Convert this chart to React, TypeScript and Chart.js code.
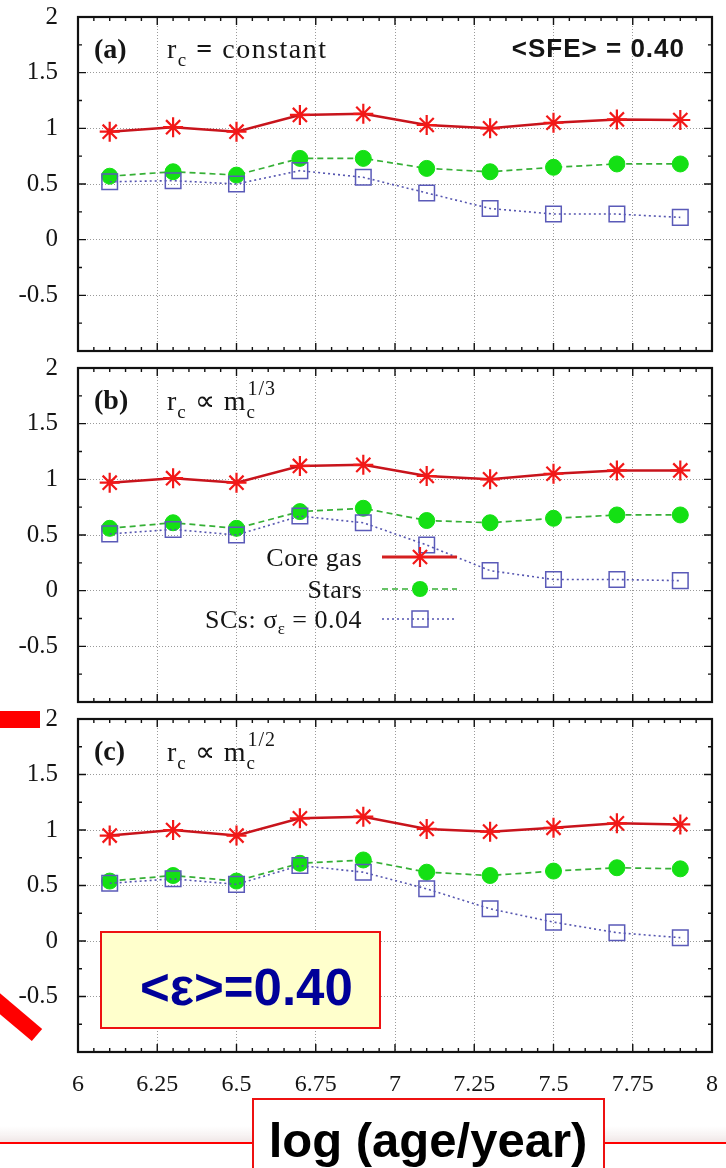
import React, { useEffect, useRef } from 'react';
import { Chart, registerables } from 'chart.js';

Chart.register(...registerables);

// ---------------- data ----------------
const ages = [6.1, 6.3, 6.5, 6.7, 6.9, 7.1, 7.3, 7.5, 7.7, 7.9];

const coreGasA = [0.97, 1.01, 0.97, 1.12, 1.13, 1.03, 1.0, 1.05, 1.08, 1.075];
const starsA = [0.57, 0.61, 0.58, 0.73, 0.73, 0.64, 0.61, 0.65, 0.68, 0.68];
const clustersA = [0.52, 0.53, 0.5, 0.62, 0.56, 0.42, 0.28, 0.23, 0.23, 0.2];

const coreGasB = [0.97, 1.01, 0.97, 1.12, 1.13, 1.03, 1.0, 1.05, 1.08, 1.08];
const starsB = [0.56, 0.61, 0.56, 0.71, 0.74, 0.63, 0.61, 0.65, 0.68, 0.68];
const clustersB = [0.51, 0.55, 0.5, 0.67, 0.61, 0.41, 0.18, 0.1, 0.1, 0.09];

const coreGasC = [0.95, 1.0, 0.95, 1.105, 1.12, 1.01, 0.985, 1.02, 1.06, 1.05];
const starsC = [0.54, 0.59, 0.54, 0.7, 0.73, 0.62, 0.59, 0.63, 0.66, 0.65];
const clustersC = [0.52, 0.56, 0.51, 0.68, 0.62, 0.47, 0.29, 0.17, 0.075, 0.03];

const xTickLabels = ['6', '6.25', '6.5', '6.75', '7', '7.25', '7.5', '7.75', '8'];
const yTickLabels = ['', '-0.5', '0', '0.5', '1', '1.5', '2'];
const seriesNames = ['Core gas', 'Stars', 'SCs'];

// ---------------- styling / layout ----------------
const W = 726;
const H = 1168;
const AREA_LEFT = 78;
const AREA_RIGHT = 712;
const SERIF = "'Liberation Serif', 'Times New Roman', serif";
const SANS = "'Liberation Sans', Arial, sans-serif";

const RED_LINE = '#c8141c';
const RED_PT = '#f21818';
const GREEN_LINE = '#36b036';
const GREEN_PT = '#14e014';
const BLUE_LINE = '#5656b0';
const BLUE_PT = '#5a5ab8';

type Run = [string, string, number];

function drawRuns(ctx: CanvasRenderingContext2D, x: number, runs: Run[]) {
  ctx.textAlign = 'left';
  ctx.textBaseline = 'alphabetic';
  for (const [t, f, y] of runs) {
    ctx.font = f;
    ctx.fillText(t, x, y);
    x += ctx.measureText(t).width;
  }
  return x;
}

function runsWidth(ctx: CanvasRenderingContext2D, runs: Run[]) {
  let w = 0;
  for (const [t, f] of runs) {
    ctx.font = f;
    w += ctx.measureText(t).width;
  }
  return w;
}

function setSpacing(ctx: CanvasRenderingContext2D, s: string) {
  (ctx as any).letterSpacing = s;
}

function drawProportional(ctx: CanvasRenderingContext2D, top: number, label: string, power: string) {
  ctx.fillStyle = '#151515';
  drawRuns(ctx, 94, [[label, `bold 28px ${SERIF}`, top + 41]]);
  setSpacing(ctx, '1px');
  const x = drawRuns(ctx, 167, [
    ['r', `28px ${SERIF}`, top + 42],
    ['c', `19px ${SERIF}`, top + 50],
    [' \u221D ', `28px ${SERIF}`, top + 42],
    ['m', `28px ${SERIF}`, top + 42],
  ]);
  drawRuns(ctx, x, [['c', `19px ${SERIF}`, top + 50]]);
  drawRuns(ctx, x + 1, [[power, `20px ${SERIF}`, top + 27]]);
  setSpacing(ctx, '0px');
}

function drawStar(ctx: CanvasRenderingContext2D, x: number, y: number, r: number) {
  ctx.beginPath();
  for (let k = 0; k < 4; k++) {
    const a = (k * Math.PI) / 4;
    ctx.moveTo(x - r * Math.cos(a), y - r * Math.sin(a));
    ctx.lineTo(x + r * Math.cos(a), y + r * Math.sin(a));
  }
  ctx.stroke();
}

function drawLegend(ctx: CanvasRenderingContext2D) {
  const textRight = 362;
  const x0 = 382;
  const x1 = 457;
  const xm = 420;
  ctx.save();
  ctx.fillStyle = '#151515';
  setSpacing(ctx, '0.5px');
  // Core gas
  const r1: Run[] = [[seriesNames[0], `26px ${SERIF}`, 566]];
  drawRuns(ctx, textRight - runsWidth(ctx, r1), r1);
  ctx.strokeStyle = '#d42020';
  ctx.lineWidth = 3;
  ctx.beginPath();
  ctx.moveTo(x0, 557);
  ctx.lineTo(x1, 557);
  ctx.stroke();
  ctx.strokeStyle = RED_PT;
  ctx.lineWidth = 2.2;
  drawStar(ctx, xm, 557, 10);
  // Stars
  const r2: Run[] = [[seriesNames[1], `26px ${SERIF}`, 598]];
  drawRuns(ctx, textRight - runsWidth(ctx, r2), r2);
  ctx.strokeStyle = GREEN_LINE;
  ctx.lineWidth = 1.6;
  ctx.setLineDash([6, 4]);
  ctx.beginPath();
  ctx.moveTo(x0, 589);
  ctx.lineTo(x1, 589);
  ctx.stroke();
  ctx.setLineDash([]);
  ctx.fillStyle = GREEN_PT;
  ctx.beginPath();
  ctx.arc(xm, 589, 8, 0, Math.PI * 2);
  ctx.fill();
  // SCs
  ctx.fillStyle = '#151515';
  const r3: Run[] = [
    [seriesNames[2] + ': \u03C3', `26px ${SERIF}`, 628],
    ['\u03B5', `17px ${SERIF}`, 634],
    [' = 0.04', `26px ${SERIF}`, 628],
  ];
  drawRuns(ctx, textRight - runsWidth(ctx, r3), r3);
  ctx.strokeStyle = BLUE_LINE;
  ctx.lineWidth = 1.6;
  ctx.setLineDash([2, 3]);
  ctx.beginPath();
  ctx.moveTo(x0, 619);
  ctx.lineTo(x1, 619);
  ctx.stroke();
  ctx.setLineDash([]);
  ctx.strokeStyle = BLUE_PT;
  ctx.lineWidth = 1.5;
  ctx.strokeRect(xm - 8, 619 - 8, 16, 16);
  setSpacing(ctx, '0px');
  ctx.restore();
}

type Panel = {
  key: string;
  top: number;
  bottom: number;
  showX: boolean;
  core: number[];
  stars: number[];
  scs: number[];
  annotate: (ctx: CanvasRenderingContext2D, top: number) => void;
};

const panels: Panel[] = [
  {
    key: 'a',
    top: 17,
    bottom: 351,
    showX: false,
    core: coreGasA,
    stars: starsA,
    scs: clustersA,
    annotate: (ctx, top) => {
      ctx.fillStyle = '#151515';
      drawRuns(ctx, 94, [['(a)', `bold 28px ${SERIF}`, top + 41]]);
      setSpacing(ctx, '1.5px');
      drawRuns(ctx, 167, [
        ['r', `28px ${SERIF}`, top + 41],
        ['c', `19px ${SERIF}`, top + 49],
        [' = ', `bold 28px ${SERIF}`, top + 41],
        ['constant', `28px ${SERIF}`, top + 41],
      ]);
      setSpacing(ctx, '1px');
      ctx.font = `bold 26px ${SANS}`;
      ctx.textAlign = 'right';
      ctx.fillText('<SFE> = 0.40', 685, top + 40);
      setSpacing(ctx, '0px');
    },
  },
  {
    key: 'b',
    top: 368,
    bottom: 702,
    showX: false,
    core: coreGasB,
    stars: starsB,
    scs: clustersB,
    annotate: (ctx, top) => {
      drawProportional(ctx, top, '(b)', '1/3');
      drawLegend(ctx);
    },
  },
  {
    key: 'c',
    top: 719,
    bottom: 1052,
    showX: true,
    core: coreGasC,
    stars: starsC,
    scs: clustersC,
    annotate: (ctx, top) => {
      drawProportional(ctx, top, '(c)', '1/2');
    },
  },
];

function decorPlugin(panel: Panel) {
  return {
    id: 'decor_' + panel.key,
    beforeDatasetsDraw(chart: any) {
      const { ctx, chartArea: a, scales } = chart;
      ctx.save();
      ctx.strokeStyle = '#111';
      ctx.lineWidth = 1.4;
      ctx.beginPath();
      for (let i = 0; i <= 40; i++) {
        const px = scales.x.getPixelForValue(6 + i * 0.05);
        const len = i % 5 === 0 ? 8 : 4;
        ctx.moveTo(px, a.bottom);
        ctx.lineTo(px, a.bottom - len);
        ctx.moveTo(px, a.top);
        ctx.lineTo(px, a.top + len);
      }
      for (let i = 0; i <= 12; i++) {
        const py = scales.y.getPixelForValue(-1 + i * 0.25);
        const len = i % 2 === 0 ? 8 : 4;
        ctx.moveTo(a.left, py);
        ctx.lineTo(a.left + len, py);
        ctx.moveTo(a.right, py);
        ctx.lineTo(a.right - len, py);
      }
      ctx.stroke();
      ctx.lineWidth = 2.2;
      ctx.strokeRect(a.left, a.top, a.right - a.left, a.bottom - a.top);
      ctx.restore();
    },
    afterDatasetsDraw(chart: any) {
      const ctx = chart.ctx;
      ctx.save();
      panel.annotate(ctx, chart.chartArea.top);
      ctx.restore();
    },
  };
}

function clearPadding(s: any) {
  s.paddingTop = 0;
  s.paddingBottom = 0;
  s.paddingLeft = 0;
  s.paddingRight = 0;
}

function makeChart(canvas: HTMLCanvasElement, panel: Panel) {
  const pts = (vals: number[]) => ages.map((x, i) => ({ x, y: vals[i] }));
  return new Chart(canvas, {
    type: 'line',
    data: {
      datasets: [
        {
          label: seriesNames[0],
          data: pts(panel.core),
          borderColor: RED_LINE,
          borderWidth: 2.5,
          pointStyle: 'star',
          pointRadius: 10,
          pointBorderColor: RED_PT,
          pointBackgroundColor: RED_PT,
          pointBorderWidth: 2.2,
          tension: 0,
          fill: false,
          order: 3,
        },
        {
          label: seriesNames[1],
          data: pts(panel.stars),
          borderColor: GREEN_LINE,
          borderWidth: 1.7,
          borderDash: [6, 4],
          pointStyle: 'circle',
          pointRadius: 8,
          pointBackgroundColor: GREEN_PT,
          pointBorderColor: GREEN_PT,
          pointBorderWidth: 1,
          tension: 0,
          fill: false,
          order: 2,
        },
        {
          label: seriesNames[2],
          data: pts(panel.scs),
          borderColor: BLUE_LINE,
          borderWidth: 1.6,
          borderDash: [2, 3],
          pointStyle: 'rect',
          pointRadius: 11,
          pointBackgroundColor: 'rgba(255,255,255,0)',
          pointBorderColor: BLUE_PT,
          pointBorderWidth: 1.5,
          tension: 0,
          fill: false,
          order: 1,
        },
      ],
    },
    options: {
      animation: false,
      responsive: true,
      maintainAspectRatio: false,
      events: [],
      layout: { padding: { top: panel.top, right: W - AREA_RIGHT, left: 0, bottom: 0 } },
      plugins: { legend: { display: false }, tooltip: { enabled: false } },
      scales: {
        x: {
          type: 'linear',
          min: 6,
          max: 8,
          ticks: {
            stepSize: 0.25,
            display: panel.showX,
            autoSkip: false,
            maxRotation: 0,
            padding: 18,
            color: '#151515',
            font: { family: SERIF, size: 24 },
            callback: (_v: any, i: number) => xTickLabels[i],
          },
          grid: { color: '#9a9a9a', lineWidth: 1, drawTicks: false },
          border: { display: false, dash: [1, 2] },
          afterFit: (s: any) => {
            s.height = H - panel.bottom;
            clearPadding(s);
          },
        },
        y: {
          type: 'linear',
          min: -1,
          max: 2,
          ticks: {
            stepSize: 0.5,
            padding: 20,
            color: '#151515',
            font: { family: SERIF, size: 25 },
            callback: (_v: any, i: number) => yTickLabels[i],
          },
          grid: { color: '#9a9a9a', lineWidth: 1, drawTicks: false },
          border: { display: false, dash: [1, 2] },
          afterFit: (s: any) => {
            s.width = AREA_LEFT;
            clearPadding(s);
          },
        },
      },
    },
    plugins: [decorPlugin(panel)],
  } as any);
}

function PanelChart({ panel }: { panel: Panel }) {
  const ref = useRef<HTMLCanvasElement | null>(null);
  useEffect(() => {
    if (!ref.current) return;
    const chart = makeChart(ref.current, panel);
    return () => chart.destroy();
  }, [panel]);
  return (
    <div style={{ position: 'absolute', left: 0, top: 0, width: W, height: H }}>
      <canvas ref={ref} />
    </div>
  );
}

export default function App() {
  return (
    <div
      style={{
        position: 'absolute',
        left: 0,
        top: 0,
        width: W,
        height: H,
        overflow: 'hidden',
        background: '#ffffff',
      }}
    >
      {panels.map((p) => (
        <PanelChart key={p.key} panel={p} />
      ))}
      <svg
        width={W}
        height={H}
        style={{ position: 'absolute', left: 0, top: 0, pointerEvents: 'none' }}
      >
        <defs>
          <linearGradient id="shade" x1="0" y1="0" x2="0" y2="1">
            <stop offset="0" stopColor="#f4eeee" stopOpacity="0" />
            <stop offset="1" stopColor="#efe6e6" stopOpacity="1" />
          </linearGradient>
        </defs>
        <rect x={0} y={1126} width={W} height={16} fill="url(#shade)" />
        <rect x={0} y={711} width={40} height={17} fill="#ff0000" />
        <line x1={-14} y1={992} x2={37} y2={1035} stroke="#ff0000" strokeWidth={16} />
        <rect x={101} y={932} width={279} height={96} fill="#ffffcc" stroke="#ee1111" strokeWidth={2} />
        <text x={140} y={1005} fill="#000099" style={{ font: `bold 51px ${SANS}` }}>
          {'<\u03B5>=0.40'}
        </text>
        <line x1={0} y1={1143} x2={252} y2={1143} stroke="#ff0000" strokeWidth={2} />
        <line x1={604} y1={1143} x2={W} y2={1143} stroke="#ff0000" strokeWidth={2} />
        <rect x={253} y={1099} width={351} height={90} fill="#ffffff" stroke="#ee1111" strokeWidth={2} />
        <text
          x={428}
          y={1157}
          fill="#000000"
          textAnchor="middle"
          style={{ font: `bold 49px ${SANS}` }}
        >
          log (age/year)
        </text>
      </svg>
    </div>
  );
}
